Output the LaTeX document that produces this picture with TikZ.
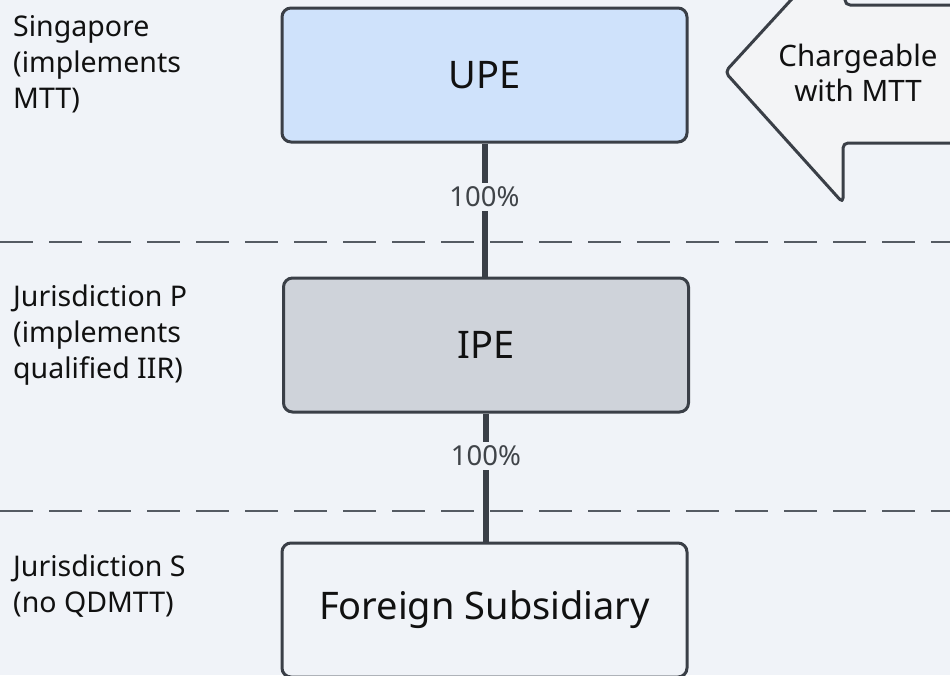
\documentclass[tikz,border=0pt]{standalone}
\usepackage{fontspec}
\setmainfont{Noto Sans}
\definecolor{bg}{HTML}{F0F3F8}
\definecolor{edge}{HTML}{3A3F47}
\definecolor{upefill}{HTML}{CFE2FB}
\definecolor{ipefill}{HTML}{CFD3DA}
\definecolor{arrowfill}{HTML}{F3F4F6}
\definecolor{dashcol}{HTML}{555B63}
\definecolor{lblcol}{HTML}{404449}
\definecolor{txt}{HTML}{111111}
\begin{document}
\begin{tikzpicture}[x=1pt,y=-1pt,
  entity/.style={draw=edge, line width=3pt, rounded corners=9pt, minimum width=405pt, minimum height=134pt, inner sep=0pt, text=txt, font=\fontsize{38}{44}\selectfont},
  conn/.style={draw=edge, line width=6pt},
  pct/.style={fill=bg, inner sep=4pt, text=lblcol, font=\fontsize{27.5}{32}\selectfont},
  juris/.style={anchor=north west, inner sep=0pt, align=left, text=txt, font=\fontsize{28.5}{36}\selectfont},
  sepline/.style={draw=dashcol, line width=2pt, dash pattern=on 33pt off 16pt},
  bigarrow/.style={draw=edge, line width=3pt, fill=arrowfill, rounded corners=5pt, line join=round}
]
\useasboundingbox (0,0) rectangle (950,675);
\clip (0,0) rectangle (950,675);
\fill[bg] (0,0) rectangle (950,675);

% separators
\draw[sepline] (0,242) -- (950,242);
\draw[sepline] (0,511) -- (950,511);

% jurisdiction labels
\node[juris] (sg) at (13,15) {Singapore\\(implements\\MTT)};
\node[juris] (jp) at (13,285) {Jurisdiction P\\(implements\\qualified IIR)};
\node[juris] (js) at (13,555) {Jurisdiction S\\(no QDMTT)};

% entities
\node[entity, fill=upefill] (upe) at (484.5,75) {UPE};
\node[entity, fill=ipefill] (ipe) at (486,345) {IPE};
\node[entity, fill=bg] (fs) at (484.5,610) {Foreign Subsidiary};

% connectors
\draw[conn] (upe.south) -- node[pct, pos=0.4] (p1) {100\%} (upe.south |- ipe.north);
\draw[conn] (ipe.south) -- node[pct, pos=0.33] (p2) {100\%} (ipe.south |- fs.north);

% big arrow
\coordinate (a1) at (970,5);
\coordinate (a2) at (845,5);
\coordinate (a3) at (845,-59);
\coordinate (tip) at (725,72);
\coordinate (a5) at (843,203);
\coordinate (a6) at (843,143);
\coordinate (a7) at (970,143);
\draw[bigarrow] (a1) -- (a2) -- (a3) -- (tip) -- (a5) -- (a6) -- (a7);
\node[align=center, text=txt, inner sep=0pt, font=\fontsize{29.5}{35}\selectfont] (chg) at (858,73) {Chargeable\\with MTT};
\end{tikzpicture}
\end{document}
